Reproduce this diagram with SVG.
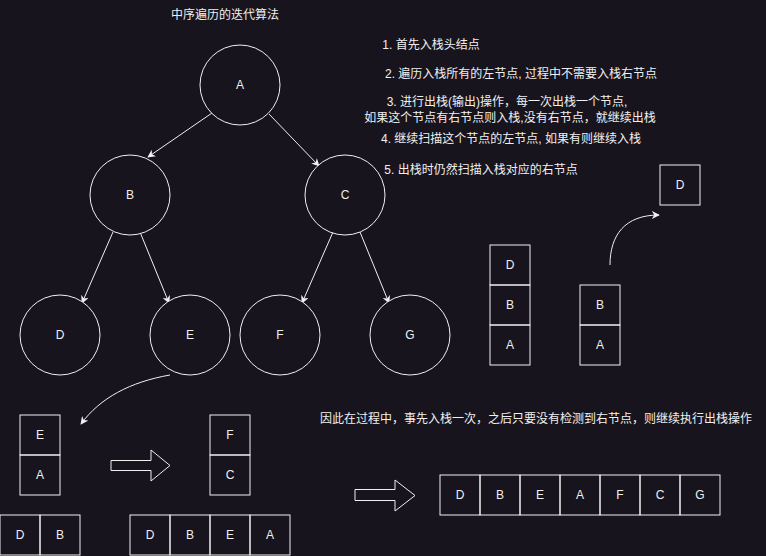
<svg xmlns="http://www.w3.org/2000/svg" width="766" height="556" viewBox="0 0 766 556">
<defs>
<style>
.bg{fill:#18141d}
.n{fill:none;stroke:#f0f0f0;stroke-width:1}
.c{fill:#18141d;stroke:#f0f0f0;stroke-width:1}
.t{font-family:"Liberation Sans","Noto Sans CJK SC",sans-serif;font-size:12px;fill:#f0f0f0;text-anchor:middle;dominant-baseline:central}
.e{fill:none;stroke:#f0f0f0;stroke-width:1}
</style>
<marker id="ah" viewBox="0 0 10 10" refX="9" refY="5" markerWidth="8" markerHeight="8" markerUnits="userSpaceOnUse" orient="auto">
<path d="M0,0 L10,5 L0,10 L3,5 Z" fill="#f0f0f0"/>
</marker>
</defs>
<rect class="bg" x="0" y="0" width="766" height="556"/>

<g id="texts">
<text class="t" x="225" y="15">中序遍历的迭代算法</text>
<text class="t" x="431" y="45">1. 首先入栈头结点</text>
<text class="t" x="521" y="74">2. 遍历入栈所有的左节点, 过程中不需要入栈右节点</text>
<text class="t" x="507" y="102">3. 进行出栈(输出)操作，每一次出栈一个节点,</text>
<text class="t" x="510" y="118">如果这个节点有右节点则入栈,没有右节点，就继续出栈</text>
<text class="t" x="511" y="139">4. 继续扫描这个节点的左节点, 如果有则继续入栈</text>
<text class="t" x="481" y="170">5. 出栈时仍然扫描入栈对应的右节点</text>
<text class="t" x="536" y="419">因此在过程中，事先入栈一次，之后只要没有检测到右节点，则继续执行出栈操作</text>
</g>

<g id="connectors">
<line class="e" x1="212" y1="113" x2="148" y2="157" marker-end="url(#ah)"/>
<line class="e" x1="269" y1="114" x2="319" y2="166" marker-end="url(#ah)"/>
<line class="e" x1="113" y1="232" x2="82" y2="303" marker-end="url(#ah)"/>
<line class="e" x1="140" y1="232" x2="169" y2="303" marker-end="url(#ah)"/>
<line class="e" x1="333" y1="232" x2="302" y2="303" marker-end="url(#ah)"/>
<line class="e" x1="360" y1="232" x2="389" y2="303" marker-end="url(#ah)"/>
<path class="e" d="M610,265 C610,235 625,215 659,215" marker-end="url(#ah)"/>
<path class="e" d="M170,375 C130,382 100,398 81,424" marker-end="url(#ah)"/>
</g>

<g id="nodeA"><circle class="c" cx="240" cy="85" r="40"/><text class="t" x="240" y="85">A</text></g>
<g id="nodeB"><circle class="c" cx="130" cy="195" r="40"/><text class="t" x="130" y="195">B</text></g>
<g id="nodeC"><circle class="c" cx="345" cy="195" r="40"/><text class="t" x="345" y="195">C</text></g>
<g id="nodeD"><circle class="c" cx="60" cy="335" r="40"/><text class="t" x="60" y="335">D</text></g>
<g id="nodeE"><circle class="c" cx="190" cy="335" r="40"/><text class="t" x="190" y="335">E</text></g>
<g id="nodeF"><circle class="c" cx="280" cy="335" r="40"/><text class="t" x="280" y="335">F</text></g>
<g id="nodeG"><circle class="c" cx="410" cy="335" r="40"/><text class="t" x="410" y="335">G</text></g>

<g id="stack1">
<rect class="n" x="490" y="245" width="40" height="40"/><text class="t" x="510" y="265">D</text>
<rect class="n" x="490" y="285" width="40" height="40"/><text class="t" x="510" y="305">B</text>
<rect class="n" x="490" y="325" width="40" height="40"/><text class="t" x="510" y="345">A</text>
</g>
<g id="stack2">
<rect class="n" x="580" y="285" width="40" height="40"/><text class="t" x="600" y="305">B</text>
<rect class="n" x="580" y="325" width="40" height="40"/><text class="t" x="600" y="345">A</text>
</g>
<g id="popD">
<rect class="n" x="660" y="165" width="40" height="40"/><text class="t" x="680" y="185">D</text>
</g>

<g id="stack3">
<rect class="n" x="20" y="415" width="40" height="40"/><text class="t" x="40" y="435">E</text>
<rect class="n" x="20" y="455" width="40" height="40"/><text class="t" x="40" y="475">A</text>
</g>
<g id="stack4">
<rect class="n" x="210" y="415" width="40" height="40"/><text class="t" x="230" y="435">F</text>
<rect class="n" x="210" y="455" width="40" height="40"/><text class="t" x="230" y="475">C</text>
</g>
<g id="out1">
<rect class="n" x="0" y="515" width="40" height="40"/><text class="t" x="20" y="535">D</text>
<rect class="n" x="40" y="515" width="40" height="40"/><text class="t" x="60" y="535">B</text>
</g>
<g id="out2">
<rect class="n" x="130" y="515" width="40" height="40"/><text class="t" x="150" y="535">D</text>
<rect class="n" x="170" y="515" width="40" height="40"/><text class="t" x="190" y="535">B</text>
<rect class="n" x="210" y="515" width="40" height="40"/><text class="t" x="230" y="535">E</text>
<rect class="n" x="250" y="515" width="40" height="40"/><text class="t" x="270" y="535">A</text>
</g>
<g id="out3">
<rect class="n" x="440" y="475" width="40" height="40"/><text class="t" x="460" y="495">D</text>
<rect class="n" x="480" y="475" width="40" height="40"/><text class="t" x="500" y="495">B</text>
<rect class="n" x="520" y="475" width="40" height="40"/><text class="t" x="540" y="495">E</text>
<rect class="n" x="560" y="475" width="40" height="40"/><text class="t" x="580" y="495">A</text>
<rect class="n" x="600" y="475" width="40" height="40"/><text class="t" x="620" y="495">F</text>
<rect class="n" x="640" y="475" width="40" height="40"/><text class="t" x="660" y="495">C</text>
<rect class="n" x="680" y="475" width="40" height="40"/><text class="t" x="700" y="495">G</text>
</g>

<g id="bigArrow1">
<path class="n" d="M111,460.5 L151,460.5 L151,450 L170,465.5 L151,481 L151,470.5 L111,470.5 Z"/>
</g>
<g id="bigArrow2">
<path class="n" d="M355,489.5 L395,489.5 L395,480 L415,495.5 L395,511 L395,500.5 L355,500.5 Z"/>
</g>
</svg>
